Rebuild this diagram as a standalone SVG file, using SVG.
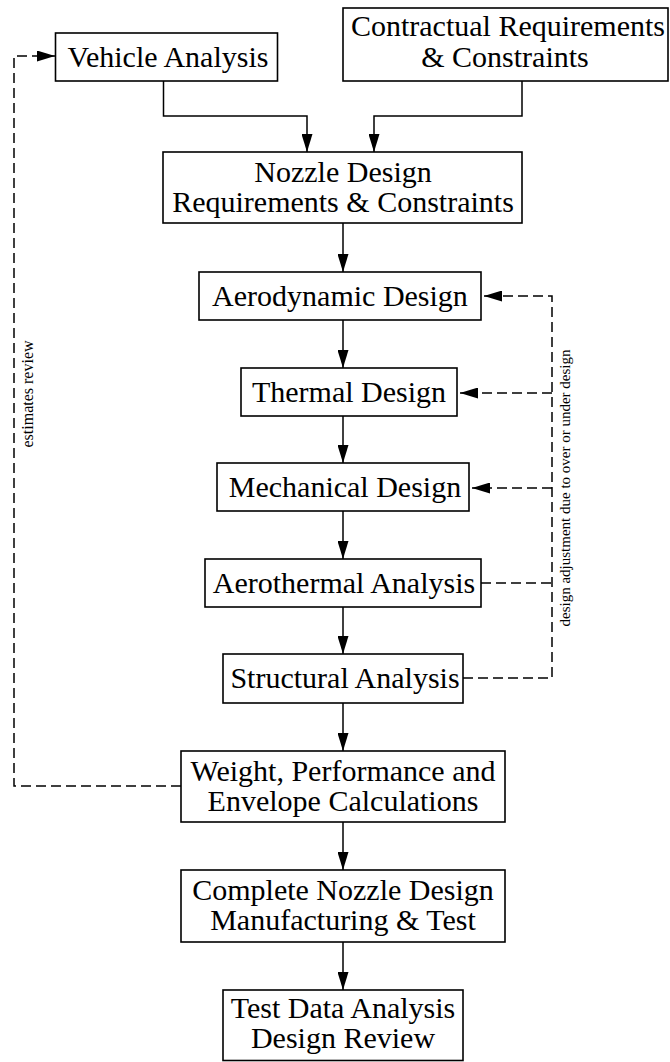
<svg xmlns="http://www.w3.org/2000/svg" width="670" height="1062" viewBox="0 0 670 1062">
<style>
.box{fill:#fff;stroke:#000;stroke-width:1.6}
.t{font-family:"Liberation Serif","Times New Roman",serif;font-size:30px;fill:#000;text-anchor:middle}
.s{font-family:"Liberation Serif","Times New Roman",serif;font-size:15px;fill:#000;text-anchor:middle}
.c{fill:none;stroke:#000;stroke-width:1.5}
.d{fill:none;stroke:#000;stroke-width:1.5;stroke-dasharray:10 5}
</style>
<defs>
<marker id="arr" viewBox="0 0 18 11" refX="18" refY="5.5" markerWidth="18" markerHeight="11" markerUnits="userSpaceOnUse" orient="auto">
<path d="M0,0 L18,5.5 L0,11 Z" fill="#000"/>
</marker>
</defs>
<g id="connectors">
<path class="c" d="M163.5,81 V116 H307 V152" marker-end="url(#arr)"/>
<path class="c" d="M522,81 V116 H374 V152" marker-end="url(#arr)"/>
<path class="c" d="M343,223 V272" marker-end="url(#arr)"/>
<path class="c" d="M343,320 V368" marker-end="url(#arr)"/>
<path class="c" d="M343,416 V463" marker-end="url(#arr)"/>
<path class="c" d="M343,511 V559" marker-end="url(#arr)"/>
<path class="c" d="M343,607 V654" marker-end="url(#arr)"/>
<path class="c" d="M343,703 V751" marker-end="url(#arr)"/>
<path class="c" d="M343,822 V870" marker-end="url(#arr)"/>
<path class="c" d="M343,942 V990" marker-end="url(#arr)"/>
<path class="d" d="M181,786 H14 V56 H36"/>
<path class="c" d="M36,56 H55" marker-end="url(#arr)"/>
<path class="d" d="M463,678 H552 V296 H500"/>
<path class="c" d="M500,296 H484" marker-end="url(#arr)"/>
<path class="d" d="M552,393 H476"/>
<path class="c" d="M476,393 H460" marker-end="url(#arr)"/>
<path class="d" d="M552,488 H488"/>
<path class="c" d="M488,488 H472" marker-end="url(#arr)"/>
<path class="d" d="M481,583 H552"/>
<text class="s" style="font-size:16px" transform="translate(33,394) rotate(-90)">estimates review</text>
<text class="s" transform="translate(570,488) rotate(-90)">design adjustment due to over or under design</text>
</g>
<g id="vehicle"><rect class="box" x="55.5" y="33" width="222" height="48"/><text class="t" x="168" y="67">Vehicle Analysis</text></g>
<g id="contractual"><rect class="box" x="343" y="8" width="325" height="73"/><text class="t" x="508" y="36">Contractual Requirements</text><text class="t" x="505" y="67">&amp; Constraints</text></g>
<g id="nozzle"><rect class="box" x="163" y="152" width="359" height="71"/><text class="t" x="343" y="182">Nozzle Design</text><text class="t" x="343" y="212">Requirements &amp; Constraints</text></g>
<g id="aerodynamic"><rect class="box" x="199" y="272" width="282" height="48"/><text class="t" x="340" y="306">Aerodynamic Design</text></g>
<g id="thermal"><rect class="box" x="241" y="368" width="216" height="48"/><text class="t" x="349" y="402">Thermal Design</text></g>
<g id="mechanical"><rect class="box" x="217" y="463" width="252" height="48"/><text class="t" x="345" y="497">Mechanical Design</text></g>
<g id="aerothermal"><rect class="box" x="205" y="559" width="276" height="48"/><text class="t" x="344" y="593">Aerothermal Analysis</text></g>
<g id="structural"><rect class="box" x="223" y="654" width="240" height="49"/><text class="t" x="345" y="688">Structural Analysis</text></g>
<g id="weight"><rect class="box" x="181" y="751" width="324" height="71"/><text class="t" x="343" y="781">Weight, Performance and</text><text class="t" x="343" y="811">Envelope Calculations</text></g>
<g id="complete"><rect class="box" x="181" y="870" width="324" height="72"/><text class="t" x="343" y="900">Complete Nozzle Design</text><text class="t" x="343" y="930">Manufacturing &amp; Test</text></g>
<g id="test"><rect class="box" x="223" y="990" width="240" height="70.5"/><text class="t" x="343" y="1018">Test Data Analysis</text><text class="t" x="343" y="1048">Design Review</text></g>
</svg>
